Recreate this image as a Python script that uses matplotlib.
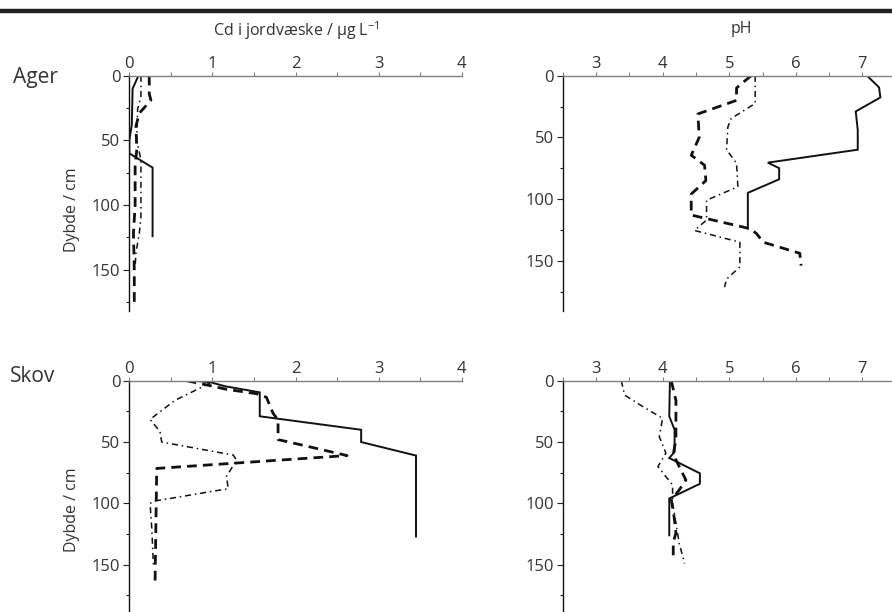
import matplotlib.pyplot as plt
from matplotlib.lines import Line2D
from matplotlib.ticker import MultipleLocator

plt.rcParams['font.family'] = ['Open Sans', 'DejaVu Sans']
plt.rcParams['mathtext.fontset'] = 'custom'
plt.rcParams['mathtext.rm'] = 'Open Sans'

# Cd i jordvaeske, Ager  (x = Cd, y = dybde)
ager_cd_solid_x = [0.11, 0.04, 0.03, 0.0, 0.0, 0.28, 0.28]
ager_cd_solid_y = [0, 10, 38, 50, 60, 71, 124]
ager_cd_dash_x = [0.24, 0.24, 0.26, 0.12, 0.08, 0.09, 0.07, 0.07, 0.05, 0.06, 0.06]
ager_cd_dash_y = [0, 14, 19, 29, 39, 57, 70, 100, 122, 150, 177]
ager_cd_dd_x = [0.14, 0.14, 0.10, 0.09, 0.14, 0.14, 0.12, 0.08, 0.07]
ager_cd_dd_y = [0, 16, 26, 50, 65, 109, 122, 137, 148]

# pH, Ager
ager_ph_solid_x = [7.07, 7.25, 7.27, 6.90, 6.93, 6.93, 5.58, 5.75, 5.75, 5.28, 5.28]
ager_ph_solid_y = [0, 9.5, 17.6, 29, 44, 60, 70.5, 75, 84, 95, 124]
ager_ph_dash_x = [5.33, 5.16, 5.11, 5.11, 4.53, 4.55, 4.43, 4.63, 4.65, 4.43, 4.43,
                  5.31, 5.41, 5.51, 6.06, 6.08]
ager_ph_dash_y = [0, 7.6, 10, 20, 31, 50, 64.5, 72.6, 85, 96, 113, 124, 128, 135, 144, 154]
ager_ph_dd_x = [5.39, 5.39, 5.03, 4.98, 4.96, 5.11, 5.13, 4.66, 4.66, 4.48, 5.16, 5.16, 4.96, 4.93]
ager_ph_dd_y = [0, 22.5, 34.7, 41.5, 60, 71, 90, 101, 117, 125.5, 135, 155, 165, 171.5]

# Cd i jordvaeske, Skov
skov_cd_solid_x = [0.79, 0.99, 1.15, 1.57, 1.57, 2.79, 2.79, 3.45, 3.45]
skov_cd_solid_y = [0, 1.5, 4.5, 9.5, 29, 40, 50, 61, 127]
skov_cd_dash_x = [0.69, 0.97, 1.17, 1.53, 1.65, 1.73, 1.79, 1.79, 2.05, 2.62, 0.33, 0.31]
skov_cd_dash_y = [0, 4, 7, 10.6, 13.5, 26.6, 32, 48, 52, 61, 71.5, 164]
skov_cd_dd_x = [0.97, 0.55, 0.25, 0.37, 0.39, 1.25, 1.29, 1.17, 1.19, 0.31, 0.25, 0.27, 0.29]
skov_cd_dd_y = [2, 16, 31.5, 41.6, 50, 60.6, 64.7, 78, 88, 98, 100, 120, 150]

# pH, Skov
skov_ph_solid_x = [4.11, 4.10, 4.18, 4.18, 4.10, 4.56, 4.56, 4.10, 4.10]
skov_ph_solid_y = [0, 29, 40, 58, 63, 75.5, 84, 96, 126]
skov_ph_dash_x = [4.13, 4.20, 4.20, 4.16, 4.25, 4.35, 4.25, 4.13, 4.17, 4.20, 4.16, 4.16]
skov_ph_dash_y = [0, 16, 48, 60, 70, 81, 89, 97, 110, 124, 132, 144]
skov_ph_dd_x = [3.38, 3.43, 3.70, 4.00, 3.95, 4.05, 3.93, 4.15, 4.15, 4.20, 4.25, 4.33]
skov_ph_dd_y = [0, 11.7, 21, 30.7, 45.6, 59, 70, 85, 100, 116, 132.6, 149]

W, H = 892, 612
fig = plt.figure(figsize=(W / 100, H / 100), dpi=100)

TXT = '#333333'
AXC = '#808080'


def px_axes(x0, y0, x1, y1):
    return fig.add_axes([x0 / W, 1 - y1 / H, (x1 - x0) / W, (y1 - y0) / H])


def style(ax, xlim, ylim, xmajor, ymajor=50):
    ax.set_xlim(*xlim)
    ax.set_ylim(ylim, 0)
    ax.xaxis.tick_top()
    ax.spines['bottom'].set_visible(False)
    ax.spines['right'].set_visible(False)
    ax.spines['top'].set_color(AXC)
    ax.spines['top'].set_linewidth(1.0)
    ax.spines['left'].set_color('#111111')
    ax.spines['left'].set_linewidth(1.0)
    ax.xaxis.set_major_locator(MultipleLocator(xmajor))
    ax.xaxis.set_minor_locator(MultipleLocator(xmajor / 2))
    ax.yaxis.set_major_locator(MultipleLocator(ymajor))
    ax.yaxis.set_minor_locator(MultipleLocator(ymajor / 2))
    ax.tick_params(axis='x', which='both', direction='out', length=3, width=0.8,
                   color=AXC, labelsize=12, labelcolor=TXT, pad=0)
    ax.tick_params(axis='y', which='major', direction='out', length=4.5, width=0.8,
                   color='#222222', labelsize=12, labelcolor=TXT, pad=2)
    ax.tick_params(axis='y', which='minor', direction='out', length=2.5, width=0.8,
                   color='#222222')
    ax.patch.set_alpha(0)


def profiles(ax, sx, sy, dx, dy, ddx, ddy):
    ax.plot(sx, sy, color='#111111', lw=1.4, solid_joinstyle='miter')
    ax.plot(dx, dy, color='#111111', lw=2.0, dashes=(3.5, 2.2))
    ax.plot(ddx, ddy, color='#111111', lw=1.1, dashes=(4, 2.5, 1, 2.5))


ax1 = px_axes(129.3, 75.7, 461.7, 311)
style(ax1, (0, 4), 181.8, 1)
profiles(ax1, ager_cd_solid_x, ager_cd_solid_y, ager_cd_dash_x, ager_cd_dash_y,
         ager_cd_dd_x, ager_cd_dd_y)

ax2 = px_axes(562.7, 75.7, 892, 311)
style(ax2, (2.5, 2.5 + 329.3 / 66.6), 190.8, 1)
ax2.set_xticks([3, 4, 5, 6, 7])
profiles(ax2, ager_ph_solid_x, ager_ph_solid_y, ager_ph_dash_x, ager_ph_dash_y,
         ager_ph_dd_x, ager_ph_dd_y)

ax3 = px_axes(129.3, 380.7, 461.7, 612)
style(ax3, (0, 4), 188.5, 1)
profiles(ax3, skov_cd_solid_x, skov_cd_solid_y, skov_cd_dash_x, skov_cd_dash_y,
         skov_cd_dd_x, skov_cd_dd_y)

ax4 = px_axes(562.7, 380.7, 892, 612)
style(ax4, (2.5, 2.5 + 329.3 / 66.6), 188.5, 1)
ax4.set_xticks([3, 4, 5, 6, 7])
profiles(ax4, skov_ph_solid_x, skov_ph_solid_y, skov_ph_dash_x, skov_ph_dash_y,
         skov_ph_dd_x, skov_ph_dd_y)

# top rule
fig.add_artist(Line2D([0, 1], [1 - 10.5 / H, 1 - 10.5 / H], color='#222222', lw=3.2))

fig.text(296 / W, 1 - 31 / H, 'Cd i jordvæske / µg L$\\mathregular{^{-1}}$', ha='center',
         va='center', fontsize=11.5, color=TXT)
fig.text(741 / W, 1 - 29 / H, 'pH', ha='center', va='center', fontsize=11.5, color=TXT)

fig.text(13 / W, 1 - 77 / H, 'Ager', ha='left', va='center', fontsize=15, color=TXT)
fig.text(10 / W, 1 - 377 / H, 'Skov', ha='left', va='center', fontsize=15, color=TXT)

fig.text(71.5 / W, 1 - 210 / H, 'Dybde / cm', rotation=90, ha='center', va='center',
         fontsize=11.5, color=TXT)
fig.text(71.5 / W, 1 - 510 / H, 'Dybde / cm', rotation=90, ha='center', va='center',
         fontsize=11.5, color=TXT)

plt.savefig('out.png', dpi=100)
